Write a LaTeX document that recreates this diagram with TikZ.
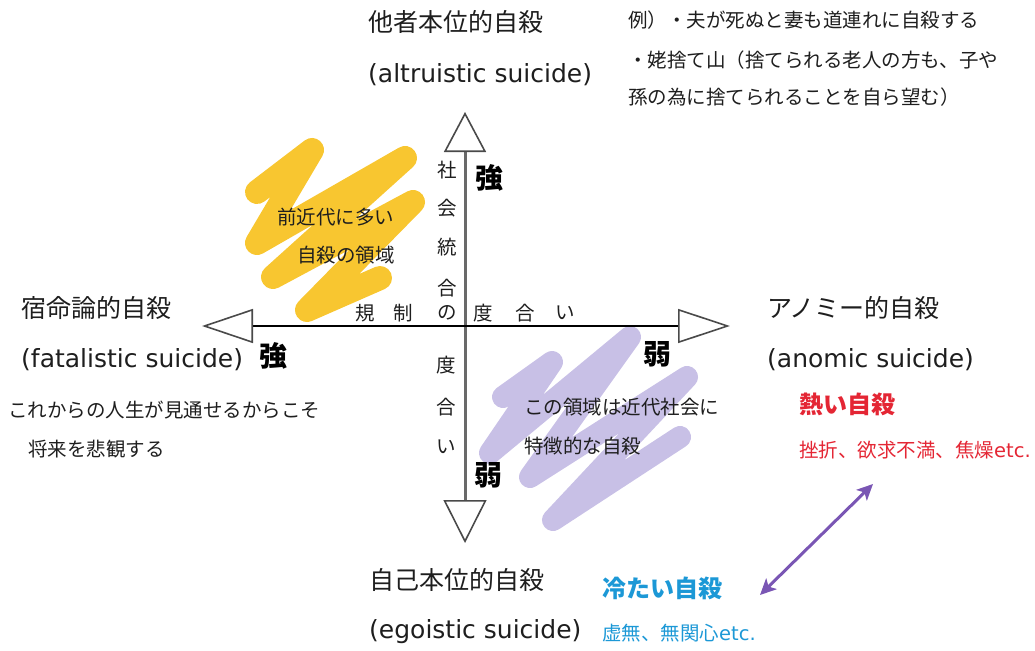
\documentclass[tikz,border=0pt]{standalone}
\usepackage{fontspec}
\setmainfont{DejaVu Sans}
\newfontfamily\jp{Noto Sans CJK JP}
\usetikzlibrary{arrows.meta}
\definecolor{txt}{RGB}{30,30,30}
\definecolor{scribY}{RGB}{248,198,48}
\definecolor{scribP}{RGB}{200,192,230}
\definecolor{hotred}{RGB}{228,38,52}
\definecolor{coldblue}{RGB}{28,152,214}
\definecolor{arrowpurple}{RGB}{122,86,180}
\definecolor{axisgray}{RGB}{105,105,105}
\begin{document}
\begin{tikzpicture}[x=1pt,y=-1pt,
  big/.style={font=\jp\fontsize{25}{30}\selectfont, inner sep=0, anchor=west, text=txt},
  lat/.style={font=\rmfamily\fontsize{25}{30}\selectfont, inner sep=0, anchor=west, text=txt},
  small/.style={font=\jp\fontsize{19.5}{24}\selectfont, inner sep=0, anchor=west, text=txt},
  axch/.style={font=\jp\fontsize{19.5}{24}\selectfont, inner sep=0, text=txt},
  degree/.style={font=\jp\bfseries\fontsize{28}{30}\selectfont, inner sep=0, text=black},
  hot/.style={font=\jp\bfseries\fontsize{24}{28}\selectfont, inner sep=0, anchor=west, text=hotred},
  hotsub/.style={font=\jp\fontsize{19.5}{24}\selectfont, inner sep=0, anchor=west, text=hotred},
  cold/.style={font=\jp\bfseries\fontsize{24}{28}\selectfont, inner sep=0, anchor=west, text=coldblue},
  coldsub/.style={font=\jp\fontsize{19.5}{24}\selectfont, inner sep=0, anchor=west, text=coldblue},
  scrib/.style={line width=24pt, line cap=round, line join=round},
  haxis/.style={line width=2.5pt, black, {Triangle[open,length=51pt,width=34pt,line width=1.6pt,color=axisgray!70!black]}-{Triangle[open,length=52pt,width=34pt,line width=1.6pt,color=axisgray!70!black]}},
  vaxis/.style={line width=3pt, axisgray, {Triangle[open,length=40pt,width=42pt,line width=1.6pt,color=axisgray!70!black]}-{Triangle[open,length=43pt,width=43pt,line width=1.6pt,color=axisgray!70!black]}},
  dbl/.style={line width=3pt, arrowpurple, {Stealth[length=16pt,width=15pt,inset=4pt]}-{Stealth[length=16pt,width=15pt,inset=4pt]}}
]
\useasboundingbox (0,0) rectangle (1035,650);

% scribbles
\draw[scrib, scribY] (257,192) -- (312,150) -- (257,243) -- (405,158) -- (273,277) -- (413,202) -- (307,310) -- (380,278);
\draw[scrib, scribP, line width=22pt] (503,397) -- (552,362) -- (490,453) -- (630,337) -- (530,477) -- (687,377) -- (553,520) -- (680,437);

% axes
\coordinate (L) at (202,326);
\coordinate (R) at (730,326);
\coordinate (T) at (465,112);
\coordinate (B) at (465,543);
\draw[vaxis] (T) -- (B);
\draw[haxis] (L) -- (R);

% axis labels
\node[axch] (v1) at (447,170) {社};
\node[axch] (v2) at (447,208) {会};
\node[axch] (v3) at (447,247) {統};
\node[axch] (v4) at (447,288) {合};
\node[axch] (v5) at (447,313) {の};
\node[axch] (h1) at (365,313) {規};
\node[axch] (h2) at (403,313) {制};
\node[axch] (h3) at (483,313) {度};
\node[axch] (h4) at (525,313) {合};
\node[axch] (h5) at (565,313) {い};
\node[axch] (w1) at (446,365) {度};
\node[axch] (w2) at (446,407) {合};
\node[axch] (w3) at (446,447) {い};

\node[degree] (sT) at (489,178) {強};
\node[degree] (sL) at (273,356) {強};
\node[degree] (wR) at (657,354) {弱};
\node[degree] (wB) at (488,475) {弱};

% titles
\node[big] (alt) at (368,22) {他者本位的自殺};
\node[lat] (altE) at (368,75) {(altruistic suicide)};
\node[big] (fat) at (21,308) {宿命論的自殺};
\node[lat] (fatE) at (21,360) {(fatalistic suicide)};
\node[big] (ano) at (767,308) {アノミー的自殺};
\node[lat] (anoE) at (767,360) {(anomic suicide)};
\node[big] (ego) at (369,580) {自己本位的自殺};
\node[lat] (egoE) at (369,632) {(egoistic suicide)};

% examples
\node[small] (ex1) at (628,20) {例）・夫が死ぬと妻も道連れに自殺する};
\node[small] (ex2) at (628,60) {・姥捨て山（捨てられる老人の方も、子や};
\node[small] (ex3) at (628,97) {孫の為に捨てられることを自ら望む）};

\node[small] (fd1) at (8,410) {これからの人生が見通せるからこそ};
\node[small] (fd2) at (28,449) {将来を悲観する};

\node[small] (pre1) at (277,217) {前近代に多い};
\node[small] (pre2) at (297,255) {自殺の領域};

\node[small] (mod1) at (524,407) {この領域は近代社会に};
\node[small] (mod2) at (524,446) {特徴的な自殺};

% hot / cold
\node[hot] (hot) at (799,404) {熱い自殺};
\node[hotsub] (hotd) at (799,450) {挫折、欲求不満、焦燥{\rmfamily etc.}};
\node[cold] (cold) at (602,588) {冷たい自殺};
\node[coldsub] (coldd) at (602,633) {虚無、無関心{\rmfamily etc.}};

\coordinate (a1) at (760,595);
\coordinate (a2) at (873,484);
\draw[dbl] (a1) -- (a2);
\end{tikzpicture}
\end{document}
